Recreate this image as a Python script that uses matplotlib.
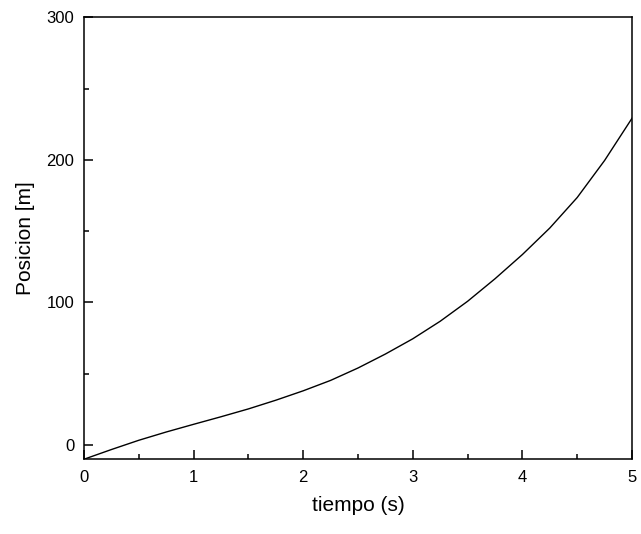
import matplotlib
matplotlib.use("Agg")
import matplotlib.pyplot as plt
from matplotlib.ticker import MultipleLocator

plt.rcParams['font.family'] = ['Liberation Sans', 'DejaVu Sans']

tiempo = [0.0, 0.25, 0.5, 0.75, 1.0, 1.25, 1.5, 1.75, 2.0, 2.25, 2.5,
          2.75, 3.0, 3.25, 3.5, 3.75, 4.0, 4.25, 4.5, 4.75, 5.0]
posicion = [-10.0, -3.2, 3.3, 9.1, 14.5, 19.8, 25.3, 31.4, 38.0, 45.3, 54.0,
            63.8, 74.5, 86.8, 100.8, 116.6, 133.6, 152.2, 173.6, 199.6, 229.2]
x_ticks = [0, 1, 2, 3, 4, 5]
y_ticks = [0, 100, 200, 300]

fig = plt.figure(figsize=(6.41, 5.34), dpi=100)
ax = fig.add_axes([0.131, 0.140, 0.855, 0.8276])
ax.plot(tiempo, posicion, color='black', linewidth=1.0)

ax.set_xlim(0, 5)
ax.set_ylim(-10, 300)
ax.set_xticks(x_ticks)
ax.set_yticks(y_ticks)
ax.xaxis.set_minor_locator(MultipleLocator(0.5))
ax.yaxis.set_minor_locator(MultipleLocator(50))
ax.tick_params(which='both', direction='in', top=False, right=False,
               labelsize=12, width=1.1)
ax.tick_params(which='major', length=6.5)
ax.tick_params(which='minor', length=3.5)
ax.tick_params(axis='x', pad=8)
ax.tick_params(axis='y', pad=7)
for s in ax.spines.values():
    s.set_linewidth(1.1)

ax.set_xlabel('tiempo (s)', fontsize=15, labelpad=8)
ax.set_ylabel('Posicion [m]', fontsize=15, labelpad=8)

fig.savefig('out.png', dpi=100)
